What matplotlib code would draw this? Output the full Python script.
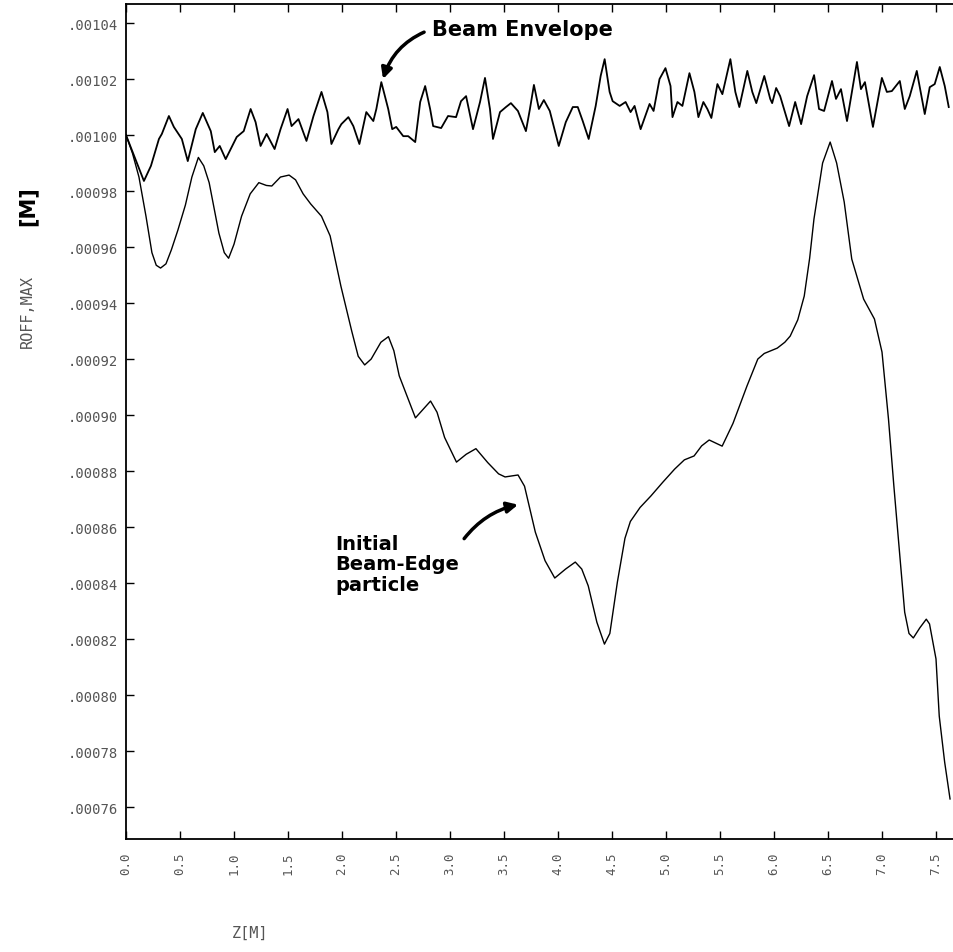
import matplotlib
matplotlib.use("Agg")
import matplotlib.pyplot as plt
import numpy as np

# ---- data ----
env_z = [0.0, 0.166, 0.231, 0.305, 0.332, 0.397, 0.443, 0.517, 0.572, 0.646, 0.711, 0.785, 0.822, 0.868,
         0.923, 1.025, 1.09, 1.154, 1.2, 1.246, 1.302, 1.376, 1.431, 1.496, 1.533, 1.597, 1.671, 1.736,
         1.81, 1.865, 1.902, 1.967, 1.994, 2.059, 2.105, 2.161, 2.225, 2.29, 2.318, 2.364, 2.428, 2.465,
         2.502, 2.567, 2.613, 2.678, 2.724, 2.77, 2.816, 2.844, 2.918, 2.982, 3.056, 3.102, 3.149, 3.213,
         3.278, 3.324, 3.37, 3.398, 3.463, 3.518, 3.564, 3.629, 3.703, 3.74, 3.777, 3.823, 3.869, 3.924,
         4.007, 4.072, 4.137, 4.183, 4.229, 4.284, 4.349, 4.395, 4.432, 4.478, 4.506, 4.571, 4.626, 4.672,
         4.709, 4.765, 4.848, 4.885, 4.94, 4.995, 5.042, 5.06, 5.106, 5.152, 5.217, 5.263, 5.3, 5.346,
         5.383, 5.42, 5.476, 5.522, 5.596, 5.642, 5.679, 5.753, 5.799, 5.836, 5.91, 5.965, 5.983, 6.02,
         6.057, 6.14, 6.196, 6.251, 6.307, 6.371, 6.417, 6.464, 6.537, 6.574, 6.62, 6.676, 6.768, 6.805,
         6.842, 6.916, 6.999, 7.045, 7.091, 7.165, 7.211, 7.257, 7.322, 7.396, 7.442, 7.488, 7.535, 7.581,
         7.618]
env_r = [1.0000, 0.9836, 0.9890, 0.9986, 1.0004, 1.0068, 1.0029, 0.9986, 0.9907, 1.0021, 1.0079, 1.0014,
         0.9939, 0.9961, 0.9914, 0.9993, 1.0014, 1.0093, 1.0046, 0.9961, 1.0004, 0.9950, 1.0021, 1.0093,
         1.0032, 1.0057, 0.9979, 1.0068, 1.0154, 1.0082, 0.9968, 1.0021, 1.0039, 1.0064, 1.0032, 0.9968,
         1.0082, 1.0050, 1.0093, 1.0189, 1.0093, 1.0021, 1.0029, 0.9996, 0.9996, 0.9975, 1.0118, 1.0175,
         1.0093, 1.0032, 1.0025, 1.0068, 1.0064, 1.0121, 1.0139, 1.0021, 1.0118, 1.0204, 1.0093, 0.9986,
         1.0082, 1.0100, 1.0114, 1.0086, 1.0014, 1.0093, 1.0179, 1.0093, 1.0125, 1.0086, 0.9961, 1.0046,
         1.0100, 1.0100, 1.0050, 0.9986, 1.0104, 1.0211, 1.0271, 1.0154, 1.0121, 1.0104, 1.0118, 1.0082,
         1.0104, 1.0021, 1.0111, 1.0086, 1.0200, 1.0239, 1.0175, 1.0064, 1.0118, 1.0104, 1.0221, 1.0154,
         1.0064, 1.0118, 1.0093, 1.0061, 1.0182, 1.0146, 1.0271, 1.0154, 1.0100, 1.0229, 1.0154, 1.0114,
         1.0211, 1.0129, 1.0114, 1.0168, 1.0139, 1.0032, 1.0118, 1.0039, 1.0139, 1.0214, 1.0093, 1.0086,
         1.0193, 1.0129, 1.0164, 1.0050, 1.0261, 1.0164, 1.0189, 1.0029, 1.0204, 1.0154, 1.0157, 1.0193,
         1.0093, 1.0139, 1.0229, 1.0075, 1.0171, 1.0182, 1.0243, 1.0175, 1.0100]

edge_z = [0.0, 0.06, 0.12, 0.185, 0.24, 0.28, 0.32, 0.37, 0.42, 0.48, 0.55, 0.61, 0.67, 0.72, 0.77,
          0.82, 0.86, 0.91, 0.95, 1.00, 1.07, 1.15, 1.23, 1.30, 1.35, 1.43, 1.51, 1.57, 1.64, 1.71,
          1.81, 1.89, 1.99, 2.09, 2.15, 2.21, 2.27, 2.36, 2.43, 2.48, 2.53, 2.59, 2.68, 2.75, 2.82,
          2.88, 2.95, 3.06, 3.15, 3.24, 3.35, 3.45, 3.51, 3.63, 3.69, 3.79, 3.88, 3.97, 4.07, 4.16,
          4.22, 4.28, 4.36, 4.43, 4.48, 4.55, 4.62, 4.67, 4.76, 4.86, 4.97, 5.08, 5.17, 5.26, 5.33,
          5.40, 5.46, 5.52, 5.62, 5.75, 5.85, 5.91, 6.03, 6.10, 6.15, 6.22, 6.28, 6.33, 6.37, 6.45,
          6.52, 6.58, 6.65, 6.72, 6.83, 6.93, 7.00, 7.06, 7.11, 7.17, 7.21, 7.25, 7.29, 7.35, 7.41,
          7.44, 7.50, 7.53, 7.58, 7.63]
edge_r = [1.0000, 0.9935, 0.9850, 0.9710, 0.9580, 0.9535, 0.9525, 0.9540, 0.9590, 0.9660, 0.9750,
          0.9850, 0.9920, 0.9890, 0.9830, 0.9730, 0.9650, 0.9580, 0.9560, 0.9610, 0.9710, 0.9790,
          0.9830, 0.9820, 0.9818, 0.9850, 0.9857, 0.9840, 0.9790, 0.9754, 0.9710, 0.9640, 0.9460,
          0.9300, 0.9210, 0.9179, 0.9200, 0.9260, 0.9280, 0.9230, 0.9140, 0.9080, 0.8990, 0.9020,
          0.9050, 0.9010, 0.8920, 0.8832, 0.8860, 0.8880, 0.8830, 0.8790, 0.8779, 0.8786, 0.8746,
          0.8582, 0.8480, 0.8418, 0.8450, 0.8475, 0.8450, 0.8390, 0.8260, 0.8182, 0.8220, 0.8404,
          0.8560, 0.8620, 0.8670, 0.8711, 0.8760, 0.8807, 0.8840, 0.8854, 0.8890, 0.8911, 0.8900,
          0.8889, 0.8970, 0.9104, 0.9200, 0.9220, 0.9239, 0.9260, 0.9282, 0.9340, 0.9425, 0.9560,
          0.9700, 0.9900, 0.9975, 0.9900, 0.9761, 0.9557, 0.9414, 0.9343, 0.9225, 0.8986, 0.8746,
          0.8475, 0.8296, 0.8220, 0.8204, 0.8240, 0.8271, 0.8254, 0.8129, 0.7925, 0.7761, 0.7629]

x_ticks = [0.0, 0.5, 1.0, 1.5, 2.0, 2.5, 3.0, 3.5, 4.0, 4.5, 5.0, 5.5, 6.0, 6.5, 7.0, 7.5]
x_tick_labels = ["0.0", "0.5", "1.0", "1.5", "2.0", "2.5", "3.0", "3.5", "4.0", "4.5",
                 "5.0", "5.5", "6.0", "6.5", "7.0", "7.5"]
y_ticks = [0.00076, 0.00078, 0.00080, 0.00082, 0.00084, 0.00086, 0.00088, 0.00090,
           0.00092, 0.00094, 0.00096, 0.00098, 0.00100, 0.00102, 0.00104]
y_tick_labels = [".00076", ".00078", ".00080", ".00082", ".00084", ".00086", ".00088", ".00090",
                 ".00092", ".00094", ".00096", ".00098", ".00100", ".00102", ".00104"]

env_r = np.array(env_r) * 1e-3
edge_r = np.array(edge_r) * 1e-3

W, H = 954, 953
fig = plt.figure(figsize=(W / 100, H / 100), dpi=100)
ax = fig.add_axes([126 / W, 1 - 840 / H, (W - 126) / W, (840 - 5) / H])

ax.plot(env_z, env_r, color="black", lw=1.3)
ax.plot(edge_z, edge_r, color="black", lw=1.0)

ax.set_xlim(0, (W - 126) / 108.0)
ax.set_ylim(0.0007486, 0.0010468)

ax.set_xticks(x_ticks)
ax.set_xticklabels(x_tick_labels, rotation=90, family="DejaVu Sans Mono", fontsize=9, color="#555555")
ax.set_yticks(y_ticks)
ax.set_yticklabels(y_tick_labels, family="DejaVu Sans Mono", fontsize=10, color="#555555")
ax.tick_params(axis="x", direction="in", length=6, width=1, top=True, pad=9)
ax.tick_params(axis="y", direction="in", length=6, width=1, pad=6)
ax.spines["right"].set_visible(False)
for s in ["left", "bottom", "top"]:
    ax.spines[s].set_linewidth(1.3)

fig.text(250 / W, 1 - 933 / H, "Z[M]", family="DejaVu Sans Mono", fontsize=11,
         color="#555555", ha="center", va="center")
fig.text(27 / W, 1 - 312 / H, "ROFF,MAX", family="DejaVu Sans Mono", fontsize=11,
         color="#555555", rotation=90, ha="center", va="center")
fig.text(28 / W, 1 - 206 / H, "[M]", fontsize=15, fontweight="bold", color="black",
         rotation=90, ha="center", va="center")

ax.annotate("Beam Envelope", xy=(2.38, 0.001020), xycoords="data",
            xytext=(432 / W, 1 - 30 / H), textcoords="figure fraction",
            fontsize=15, fontweight="bold", ha="left", va="center",
            arrowprops=dict(arrowstyle="-|>", lw=2.5, color="black",
                            connectionstyle="arc3,rad=0.25", shrinkA=4, shrinkB=0,
                            mutation_scale=16, relpos=(0.0, 0.5)))
ax.annotate("Initial\nBeam-Edge\nparticle", xy=(3.63, 0.000868), xycoords="data",
            xytext=(335 / W, 1 - 565 / H), textcoords="figure fraction",
            fontsize=14, fontweight="bold", ha="left", va="center", linespacing=1.1,
            arrowprops=dict(arrowstyle="-|>", lw=2.5, color="black",
                            connectionstyle="arc3,rad=-0.2", shrinkA=3, shrinkB=0,
                            mutation_scale=16, relpos=(1.0, 0.8)))

fig.savefig("out.png", dpi=100)
